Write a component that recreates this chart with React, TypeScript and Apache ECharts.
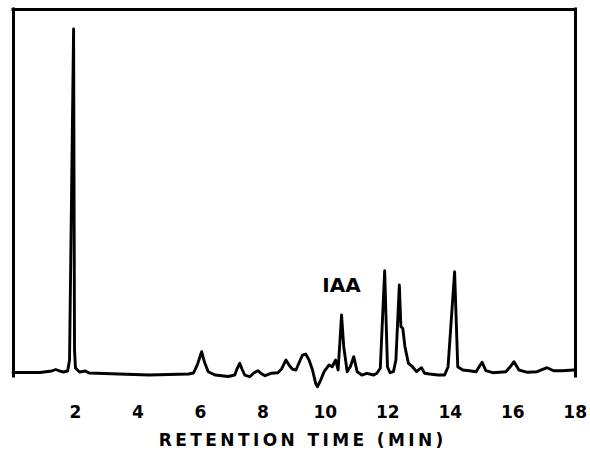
import React, { useEffect, useRef } from "react";
import * as echarts from "echarts";

// Retention time (min)
const retentionTime = [
  0.0, 0.86, 1.24, 1.37, 1.49, 1.62, 1.75, 1.81, 1.94, 1.97,
  2.0, 2.13, 2.32, 2.44, 3.4, 4.35, 4.98, 5.62, 5.78, 5.9,
  6.04, 6.13, 6.25, 6.47, 6.89, 7.1, 7.17, 7.26, 7.33, 7.42,
  7.58, 7.71, 7.84, 7.97, 8.07, 8.26, 8.48, 8.6, 8.74, 8.86,
  8.95, 9.06, 9.17, 9.27, 9.37, 9.48, 9.59, 9.69, 9.75, 9.83,
  9.96, 10.12, 10.22, 10.33, 10.41, 10.52, 10.59, 10.7, 10.8, 10.91,
  11.02, 11.17, 11.33, 11.55, 11.65, 11.76, 11.9, 11.99, 12.07, 12.18,
  12.26, 12.37, 12.42, 12.48, 12.55, 12.66, 12.79, 12.92, 13.08, 13.18,
  13.34, 13.61, 13.82, 13.93, 14.14, 14.24, 14.4, 14.61, 14.83, 14.92,
  15.02, 15.14, 15.36, 15.78, 15.94, 16.04, 16.2, 16.47, 16.78, 17.1,
  17.31, 17.58, 17.95,
];

// Detector response (arbitrary units)
const detectorSignal = [
  0.95, 0.95, 1.36, 1.77, 1.36, 1.09, 1.36, 4.36, 94.55, 7.08,
  2.18, 1.09, 1.36, 0.82, 0.54, 0.27, 0.41, 0.54, 0.82, 3.0,
  6.62, 3.81, 1.17, 0.27, -0.14, 0.27, 1.91, 3.46, 1.91, 0.27,
  -0.19, 0.82, 1.44, 0.54, 0.08, 0.74, 0.9, 1.91, 4.36, 2.72,
  1.83, 1.63, 3.81, 5.72, 5.99, 4.36, 1.63, -1.99, -2.92, -1.55,
  1.17, 3.0, 2.53, 4.36, 1.63, 16.62, 7.98, 1.17, 2.53, 5.26,
  1.17, 0.27, 0.74, 0.27, 0.74, 2.1, 28.69, 2.53, 0.9, 1.17,
  4.36, 24.8, 13.43, 13.0, 7.98, 3.46, 2.53, 1.17, 2.26, 0.74,
  0.54, 0.27, 0.27, 2.53, 28.42, 2.53, 1.63, 1.44, 1.17, 2.45,
  3.73, 1.44, 0.9, 1.17, 2.72, 3.9, 1.63, 1.01, 1.17, 2.26,
  1.44, 1.44, 1.63,
];

const xTickLabels = [2, 4, 6, 8, 10, 12, 14, 16, 18];
const xAxisTitle = "RETENTION TIME (MIN)";
const peakName = "IAA";
const peakIndex = 55;

const FONT = "DejaVu Sans";

export default function App() {
  const ref = useRef<HTMLDivElement>(null);

  useEffect(() => {
    if (!ref.current) return;
    const chart = echarts.init(ref.current, undefined, { renderer: "svg" });
    const spacedTitle = xAxisTitle
      .split(" ")
      .map((w) => w.split("").join("\u2009"))
      .join("\u00a0\u2009\u2009");
    const frameLine = {
      show: true,
      onZero: false,
      lineStyle: { color: "#000", width: 3, cap: "square" },
    };

    chart.setOption({
      animation: false,
      backgroundColor: "#fff",
      grid: { left: 13, right: 10, top: 9, bottom: 78 },
      xAxis: [
        {
          type: "value",
          position: "bottom",
          min: 0,
          max: 18,
          interval: 2,
          axisLine: { show: false, onZero: false },
          axisTick: { show: false },
          splitLine: { show: false },
          axisLabel: {
            show: true,
            margin: 27,
            fontFamily: FONT,
            fontSize: 17,
            fontWeight: "bold",
            color: "#000",
            showMaxLabel: true,
            formatter: (v: number) => (xTickLabels.includes(v) ? String(v) : ""),
          },
          name: spacedTitle,
          nameLocation: "middle",
          nameGap: 55,
          nameTextStyle: {
            fontFamily: FONT,
            fontSize: 17,
            fontWeight: "bold",
            color: "#000",
            padding: [0, 0, 0, 14],
          },
        },
        {
          type: "value",
          position: "top",
          min: 0,
          max: 18,
          axisLine: frameLine,
          axisTick: { show: false },
          axisLabel: { show: false },
          splitLine: { show: false },
        },
      ],
      yAxis: [
        {
          type: "value",
          position: "left",
          min: 0,
          max: 100,
          axisLine: frameLine,
          axisTick: { show: false },
          axisLabel: { show: false },
          splitLine: { show: false },
        },
        {
          type: "value",
          position: "right",
          min: 0,
          max: 100,
          axisLine: frameLine,
          axisTick: { show: false },
          axisLabel: { show: false },
          splitLine: { show: false },
        },
      ],
      series: [
        {
          type: "line",
          data: retentionTime.map((t, i) => [t, detectorSignal[i]]),
          showSymbol: false,
          clip: false,
          lineStyle: { color: "#000", width: 2.9, join: "round", cap: "round" },
          markPoint: {
            symbol: "circle",
            symbolSize: 0,
            data: [
              {
                coord: [retentionTime[peakIndex], detectorSignal[peakIndex]],
              },
            ],
            label: {
              show: true,
              position: "top",
              distance: 20,
              formatter: peakName,
              fontFamily: FONT,
              fontSize: 20,
              fontWeight: "bold",
              color: "#000",
            },
          },
        },
      ],
    });
    return () => chart.dispose();
  }, []);

  return (
    <div
      ref={ref}
      style={{ position: "fixed", left: 0, top: 0, width: 590, height: 454, background: "#fff" }}
    />
  );
}
